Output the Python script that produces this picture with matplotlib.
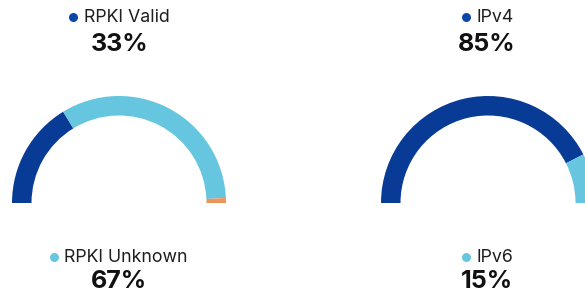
import matplotlib
matplotlib.use("Agg")
import numpy as np
import matplotlib.pyplot as plt
from matplotlib.patches import Wedge

plt.rcParams['font.family'] = ['Inter', 'DejaVu Sans']

# data
rpki_names = ['RPKI Valid', 'RPKI Unknown', 'RPKI Invalid']
rpki_values = [33, 67, 1.5]
rpki_pct = ['33%', '67%']

ip_names = ['IPv4', 'IPv6']
ip_values = [85, 15]
ip_pct = ['85%', '15%']

dark = '#073b95'
light = '#66c6df'
orange = '#ee9459'

fig = plt.figure(figsize=(5.85, 2.92), dpi=100)
ax = fig.add_axes([0, 0, 1, 1])
ax.set_xlim(0, 585)
ax.set_ylim(292, 0)
ax.set_aspect('equal')
ax.axis('off')


def gauge(cx, cy, values, colors, r=107, w=19.5):
    total = float(sum(values))
    edges = 180 + 180 * np.concatenate([[0], np.cumsum(values)]) / total
    for a, b, c in zip(edges[:-1], edges[1:], colors):
        ax.add_patch(Wedge((cx, cy), r, a, b, width=w, facecolor=c,
                           edgecolor='none'))


def legend_label(dot_x, text_x, y, name, color, pct, pct_x, dy=29):
    ax.scatter([dot_x], [y - 5.5], s=42, color=color, zorder=3,
               linewidths=0)
    ax.text(text_x, y, name, fontsize=12.8, color='#1e1e1e',
            ha='left', va='baseline')
    ax.text(pct_x, y + dy, pct, fontsize=18, fontweight='bold',
            color='#111111', ha='center', va='baseline')


gauge(119, 203, rpki_values, [dark, light, orange])
gauge(488, 203, ip_values, [dark, light])

legend_label(73, 84, 22, rpki_names[0], '#0b48a6', rpki_pct[0], 120)
legend_label(54, 64, 262, rpki_names[1], light, rpki_pct[1], 119, dy=26)
legend_label(466, 476, 22, ip_names[0], '#0b48a6', ip_pct[0], 487)
legend_label(466, 476, 262, ip_names[1], light, ip_pct[1], 487, dy=26)

fig.savefig('out.png', dpi=100)
